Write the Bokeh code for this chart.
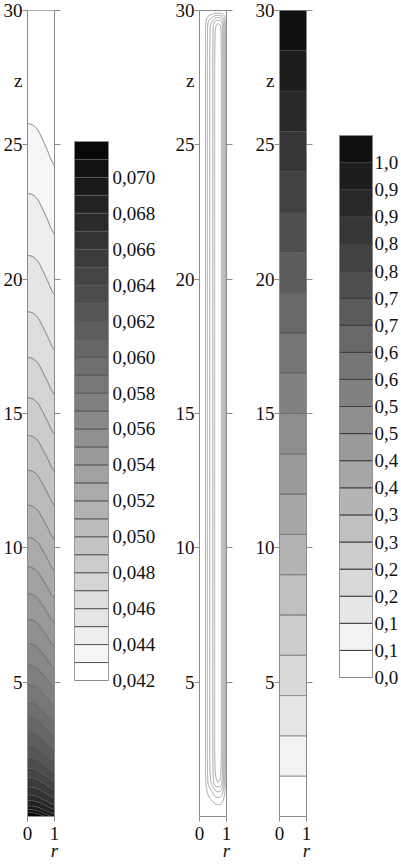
import numpy as np
from bokeh.plotting import figure
from bokeh.layouts import row
from bokeh.models import Range1d, LinearAxis, FixedTicker
from bokeh.embed import file_html
from bokeh.resources import INLINE

# ---------------- data ----------------
z_ticks = [5, 10, 15, 20, 25, 30]
r_ticks = [0, 1]
z_label_at = 27.4      # height of the "z" caption
r_label_at = 1         # the "r" caption sits under r = 1

# Left panel: 30 filled bands between these levels
left_levels = [0.042, 0.043, 0.044, 0.045, 0.046, 0.047, 0.048, 0.049, 0.050,
               0.051, 0.052, 0.053, 0.054, 0.055, 0.056, 0.057, 0.058, 0.059,
               0.060, 0.061, 0.062, 0.063, 0.064, 0.065, 0.066, 0.067, 0.068,
               0.069, 0.070, 0.071, 0.072]
# z where the inner levels 0.043 ... 0.071 meet the axis r = 0
left_axis_z = [25.8, 23.2, 20.9, 18.8, 17.1, 15.6, 14.2, 12.9, 11.6, 10.4,
               9.3, 8.3, 7.35, 6.45, 5.65, 4.9, 4.25, 3.7, 3.15, 2.65,
               2.2, 1.8, 1.45, 1.1, 0.8, 0.6, 0.4, 0.26, 0.15]
left_value_top = 0.0425     # value at r = 0, z = 30
left_value_bottom = 0.0718  # value at r = 0, z = 0
# how far (in z) an isoline drops between r = 0 and r = 1
left_shift_r = [0.0, 0.19, 0.375, 0.56, 0.75, 0.875, 1.0]
left_shift_frac = [0.0, 0.04, 0.15, 0.38, 0.65, 0.85, 1.0]
left_shift_z = [0, 2, 5, 10, 15, 20, 26, 30]
left_shift_amp = [0.3, 0.6, 0.9, 1.3, 1.4, 1.5, 1.6, 1.6]
left_cb_ticks = [0, 2, 4, 6, 8, 10, 12, 14, 16, 18, 20, 22, 24, 26, 28]
left_cb_labels = ["0,042", "0,044", "0,046", "0,048", "0,050", "0,052",
                  "0,054", "0,056", "0,058", "0,060", "0,062", "0,064",
                  "0,066", "0,068", "0,070"]

# Middle panel: stream-function-like field R(r) * Zf(z)
mid_levels = [0.1, 0.2, 0.3, 0.4, 0.5]
mid_r = [0.0, 0.1, 0.22, 0.29, 0.38, 0.49, 0.56, 0.63, 0.69, 0.76, 0.81,
         0.86, 0.90, 0.94, 0.97, 1.0]
mid_R = [0.0, 0.035, 0.1, 0.2, 0.3, 0.4, 0.5, 0.55, 0.565, 0.55, 0.5,
         0.4, 0.3, 0.2, 0.1, 0.0]
mid_z = [0.0, 0.2, 0.45, 0.7, 1.0, 1.3, 1.8, 2.5, 27.5, 29.2, 29.5, 29.7,
         29.9, 30.0]
mid_Zf = [0.0, 0.07, 0.18, 0.35, 0.6, 0.89, 0.97, 1.0, 1.0, 0.97, 0.89,
          0.6, 0.18, 0.0]

# Right panel: value grows linearly with z, 20 bands
right_levels = [0.00, 0.05, 0.10, 0.15, 0.20, 0.25, 0.30, 0.35, 0.40, 0.45,
                0.50, 0.55, 0.60, 0.65, 0.70, 0.75, 0.80, 0.85, 0.90, 0.95,
                1.00]
right_z = [0.0, 30.0]
right_val = [0.0, 1.0]
right_cb_ticks = [0, 1, 2, 3, 4, 5, 6, 7, 8, 9, 10, 11, 12, 13, 14, 15, 16,
                  17, 18, 19]
right_cb_labels = ["0,0", "0,1", "0,1", "0,2", "0,2", "0,3", "0,3", "0,4",
                   "0,4", "0,5", "0,5", "0,6", "0,6", "0,7", "0,7", "0,8",
                   "0,8", "0,9", "0,9", "1,0"]

# ---------------- style / layout ----------------
FONT = "Liberation Serif"
FS = "19px"
AX = "#8c8c8c"
TXT = "#111111"
H = 866
MB_TOP = 10
MB_BOTTOM = 50
FRAME_TOP = MB_TOP            # page y of frame top
FRAME_BOT = H - MB_BOTTOM     # page y of frame bottom


def pchip(x, xp, fp):
    x = np.asarray(x, float)
    xp = np.asarray(xp, float)
    fp = np.asarray(fp, float)
    h = np.diff(xp)
    d = np.diff(fp) / h
    m = np.zeros_like(fp)
    for k in range(1, len(fp) - 1):
        if d[k - 1] * d[k] > 0:
            w1 = 2 * h[k] + h[k - 1]
            w2 = h[k] + 2 * h[k - 1]
            m[k] = (w1 + w2) / (w1 / d[k - 1] + w2 / d[k])
    m[0] = d[0]
    m[-1] = d[-1]
    xs = np.clip(x.ravel(), xp[0], xp[-1])
    i = np.clip(np.searchsorted(xp, xs) - 1, 0, len(h) - 1)
    t = (xs - xp[i]) / h[i]
    h00 = 2 * t**3 - 3 * t**2 + 1
    h10 = t**3 - 2 * t**2 + t
    h01 = -2 * t**3 + 3 * t**2
    h11 = t**3 - t**2
    y = h00 * fp[i] + h10 * h[i] * m[i] + h01 * fp[i + 1] + h11 * h[i] * m[i + 1]
    return y.reshape(x.shape)


def grays(n, light=255, dark=8):
    out = []
    for i in range(n):
        g = int(round(light - (light - dark) * i / (n - 1)))
        out.append("#%02x%02x%02x" % (g, g, g))
    return out


def base_fig(width, mbl, mbr, y_range):
    p = figure(width=width, height=H, x_range=Range1d(0, 1), y_range=y_range,
               output_backend="svg", toolbar_location=None,
               x_axis_location=None, y_axis_location=None,
               min_border_left=mbl, min_border_right=mbr,
               min_border_top=MB_TOP, min_border_bottom=MB_BOTTOM)
    p.grid.visible = False
    p.background_fill_color = "white"
    p.border_fill_color = "white"
    return p


def style_axis(a, style="normal"):
    a.axis_line_color = AX
    a.major_tick_line_color = AX
    a.minor_tick_line_color = None
    a.major_tick_in = 0
    a.major_label_text_font = FONT
    a.major_label_text_font_size = FS
    a.major_label_text_font_style = style
    a.major_label_text_color = TXT


def panel(width, mbl, mbr):
    p = base_fig(width, mbl, mbr, Range1d(0, 30))
    p.outline_line_color = AX
    # left, inner: tick marks only
    yt = LinearAxis(ticker=FixedTicker(ticks=z_ticks),
                    major_label_overrides={t: "" for t in z_ticks})
    style_axis(yt)
    yt.major_tick_out = 5
    yt.major_label_standoff = 0
    yt.major_label_text_color = None
    # left, outer: the numbers and the caption "z"
    lab_ticks = z_ticks + [z_label_at]
    lab_text = {t: str(t) for t in z_ticks}
    lab_text[z_label_at] = "z"
    yl = LinearAxis(ticker=FixedTicker(ticks=lab_ticks),
                    major_label_overrides=lab_text)
    style_axis(yl)
    yl.axis_line_color = None
    yl.major_tick_line_color = None
    yl.major_tick_out = 0
    yl.major_label_standoff = 0
    # right: ticks only
    yr = LinearAxis(ticker=FixedTicker(ticks=z_ticks),
                    major_label_overrides={t: "" for t in z_ticks})
    style_axis(yr)
    yr.major_tick_out = 6
    yr.major_label_standoff = 0
    yr.major_label_text_color = None
    # bottom: ticks + 0 / 1
    xb = LinearAxis(ticker=FixedTicker(ticks=r_ticks))
    style_axis(xb)
    xb.major_tick_out = 5
    xb.major_label_standoff = 5
    # bottom, outer: the italic caption "r"
    rc = LinearAxis(ticker=FixedTicker(ticks=[r_label_at]),
                    major_label_overrides={r_label_at: "r"})
    style_axis(rc, style="italic")
    rc.axis_line_color = None
    rc.major_tick_line_color = None
    rc.major_tick_out = 0
    rc.major_label_standoff = -3
    p.add_layout(yt, "left")
    p.add_layout(yl, "left")
    p.add_layout(yr, "right")
    p.add_layout(xb, "below")
    p.add_layout(rc, "below")
    return p


def colorbar(width, mbl, mbr, top_px, bot_px, palette, ticks, labels, line_color, standoff):
    n = len(palette)
    ppu = (bot_px - top_px) / n
    start = -(FRAME_BOT - bot_px) / ppu
    end = n + (top_px - FRAME_TOP) / ppu
    p = base_fig(width, mbl, mbr, Range1d(start, end))
    p.outline_line_color = None
    idx = list(range(n))
    p.quad(left=[0] * n, right=[1] * n, bottom=idx, top=[i + 1 for i in idx],
           fill_color=palette, line_color=line_color, line_width=1)
    p.quad(left=[0], right=[1], bottom=[0], top=[n], fill_color=None,
           line_color=AX, line_width=1)
    ax = LinearAxis(ticker=FixedTicker(ticks=ticks),
                    major_label_overrides={t: s for t, s in zip(ticks, labels)})
    style_axis(ax)
    ax.axis_line_color = None
    ax.major_tick_line_color = None
    ax.major_tick_out = 0
    ax.major_label_standoff = standoff
    p.add_layout(ax, "right")
    return p


# ---------------- fields ----------------
rg = np.linspace(0, 1, 161)
zg = np.linspace(0, 30, 2401)
RR, ZZ = np.meshgrid(rg, zg)

shift = pchip(ZZ, left_shift_z, left_shift_amp) * pchip(RR, left_shift_r, left_shift_frac)
zeff = np.clip(ZZ + shift, 0, 30)
F_z = [0.0] + left_axis_z[::-1] + [30.0]
F_v = [left_value_bottom] + left_levels[1:30][::-1] + [left_value_top]
left_field = pchip(zeff, F_z, F_v)

mid_field = pchip(RR, mid_r, mid_R) * pchip(ZZ, mid_z, mid_Zf)

right_field = pchip(ZZ, right_z, right_val)

left_pal = grays(len(left_levels) - 1, 255, 8)
right_pal = grays(len(right_levels) - 1, 255, 16)

# ---------------- figures ----------------
# page x: p1 0-64 (frame 27-54), p2 64-172 (bar 74-108), p3 172-252 (frame 199-226),
#         p4 252-322 (frame 279-306), p5 322-401 (bar 339-372)
p1 = panel(64, 27, 10)
p1.contour(x=rg, y=zg, z=left_field, levels=left_levels, fill_color=left_pal,
           line_color="#5c5c5c", line_width=0.8)

p2 = colorbar(108, 10, 64, 141, 680, left_pal, left_cb_ticks, left_cb_labels,
              "#5a5a5a", 4)

p3 = panel(80, 27, 26)
p3.contour(x=rg, y=zg, z=mid_field, levels=mid_levels,
           line_color="#999999", line_width=1)

p4 = panel(70, 27, 16)
p4.contour(x=rg, y=zg, z=right_field, levels=right_levels, fill_color=right_pal,
           line_color="#4a4a4a", line_width=0.8)

p5 = colorbar(79, 17, 29, 135, 677, right_pal, right_cb_ticks, right_cb_labels,
              "#3c3c3c", 2)

layout = row(p1, p2, p3, p4, p5, spacing=0)
open("out.html", "w").write(file_html(layout, INLINE))
